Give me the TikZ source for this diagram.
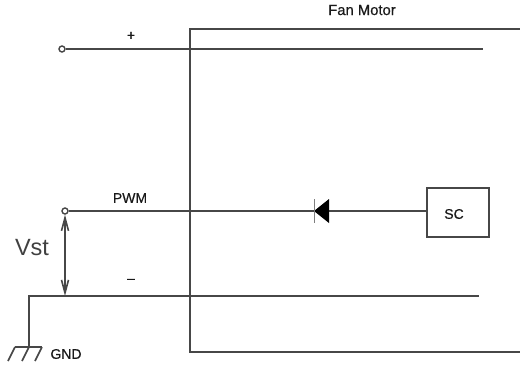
\documentclass[tikz,border=0pt]{standalone}
\usepackage{fontspec}
\setmainfont{Liberation Sans}
\newfontfamily\labfont[FakeBold=0.5]{Liberation Sans}
\usetikzlibrary{arrows.meta}
\definecolor{wirecol}{gray}{0.28}
\tikzset{
  wire/.style={draw=wirecol, line width=1.6pt},
  pin/.style={circle, draw=wirecol, line width=1.4pt, inner sep=0pt, minimum size=6pt},
  lab/.style={font=\labfont\fontsize{14}{16}\selectfont, text=black!90, inner sep=0pt},
}
\begin{document}
\begin{tikzpicture}[x=1pt, y=-1pt]

\useasboundingbox (0,0) rectangle (520,365);

% motor outline, open on the right
\draw[wire] (520,29) -- (190,29) -- (190,352) -- (520,352);

\node[pin] (pluspin) at (62,49) {};
\node[pin] (pwmpin) at (65,211) {};
\coordinate (plusend) at (483,49);
\coordinate (minusend) at (479,296);
\coordinate (gndtop) at (29,296);
\coordinate (gndbar) at (29,347);
\coordinate (vstfoot) at (65,296);
\coordinate (dcat) at (314,211);
\coordinate (dan) at (329,211);

\node[draw=wirecol, line width=1.6pt, minimum width=62pt, minimum height=49pt, inner sep=0pt] (sc) at (458,212.5) {};
\node[lab] (sclabel) at (454,214) {SC};

\draw[wire] (pluspin) -- (plusend);
\draw[wire] (pwmpin) -- (dcat);
\draw[wire] (dan) -- (dan -| sc.west);
\draw[wire] (gndbar) -- (gndtop) -- (minusend);

% diode
\fill[black] (dan) ++(0,-12) -- (dcat) -- (dan |- 0,223) -- cycle;
\draw[wirecol!70, line width=1pt] (dcat) ++(0,-12) -- ++(0,24);

\draw[wire, {Straight Barb[length=13pt,width=7pt]}-{Straight Barb[length=13pt,width=7pt]}] (pwmpin) -- (vstfoot);

% ground
\draw[wire] (15,347) -- (42,347);
\foreach \gx in {15,29,42} {
  \draw[wire] (\gx,347) -- ++(-7,14);
}

\node[lab, font=\labfont\fontsize{14.8}{16}\selectfont] (fanlabel) at (362,10) {Fan Motor};
\node[lab] (pluslabel) at (131,36) {+};
\node[lab] (pwmlabel) at (130,198) {PWM};
\node[lab] (minuslabel) at (131,281) {–};
\node[lab] (gndlabel) at (66,354) {GND};
\node[font=\fontsize{23.5}{26}\selectfont, text=black!75, inner sep=0pt] (vstlabel) at (32,248) {Vst};

\end{tikzpicture}
\end{document}
